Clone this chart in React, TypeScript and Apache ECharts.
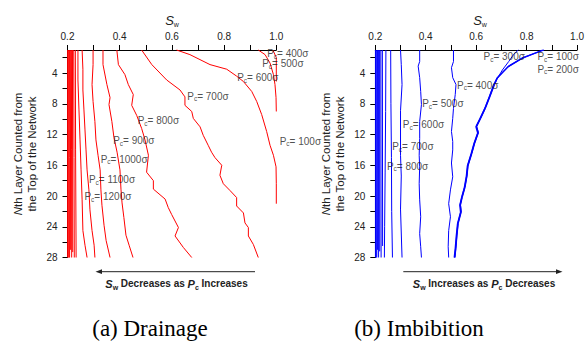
import React, { useEffect, useRef } from "react";
import * as echarts from "echarts";

const SANS = "'Liberation Sans', Arial, Helvetica, sans-serif";
const SERIF = "'Liberation Serif', 'Times New Roman', serif";

// ---- axis ticks / labels ----
const xTickValues = [0.2, 0.3, 0.4, 0.5, 0.6, 0.7, 0.8, 0.9, 1.0];
const xLabelValues = [0.2, 0.4, 0.6, 0.8, 1.0];
const yTickValues = [2, 4, 6, 8, 10, 12, 14, 16, 18, 20, 22, 24, 26, 28];
const yLabelValues = [4, 8, 12, 16, 20, 24, 28];

// ---- (a) Drainage: [Sw, layer] ----
const drainPc400 = [[0.987, 1], [1.0, 2], [1.0, 5.1]];
const drainPc500 = [[0.931, 1], [0.957, 1.6], [0.976, 2.7], [0.989, 4.2], [0.995, 5.5], [0.999, 7.2], [1.0, 9]];
const drainPc600 = [[0.618, 1], [0.669, 1.6], [0.746, 2.9], [0.81, 3.5], [0.848, 4.4], [0.874, 5.1], [0.906, 6.4], [0.925, 7.7], [0.944, 9.4], [0.963, 11.6], [0.976, 13.4], [0.989, 14.7], [0.999, 16.2], [1.0, 18.4], [1.0, 21]];
const drainPc700 = [[0.484, 1], [0.523, 2.9], [0.58, 4.9], [0.631, 6.2], [0.65, 7.1], [0.65, 8.2], [0.676, 9.0], [0.682, 9.9], [0.708, 11.0], [0.72, 12.1], [0.739, 13.4], [0.752, 14.3], [0.765, 15.0], [0.791, 16.0], [0.784, 17.3], [0.797, 18.4], [0.823, 19.3], [0.848, 20.2], [0.848, 21.3], [0.874, 22.2], [0.88, 23.5], [0.893, 24.1], [0.893, 25.2], [0.912, 26.3], [0.931, 28]];
const drainPc800 = [[0.389, 1], [0.395, 2.9], [0.42, 4.2], [0.433, 5.5], [0.452, 6.8], [0.446, 8.2], [0.465, 9.5], [0.484, 11.2], [0.497, 12.7], [0.51, 14.7], [0.503, 16.9], [0.529, 18.0], [0.529, 19.1], [0.574, 20.4], [0.586, 21.5], [0.599, 22.4], [0.625, 24.1], [0.612, 25.2], [0.644, 26.7], [0.676, 28]];
const drainPc900 = [[0.336, 1], [0.336, 2.9], [0.351, 5.5], [0.363, 7.2], [0.359, 8.1], [0.37, 10.3], [0.378, 12.4], [0.39, 14.3], [0.401, 16.6], [0.405, 19.2], [0.409, 20.9], [0.416, 22.8], [0.424, 25.1], [0.436, 26.4], [0.451, 28]];
const drainPc1000 = [[0.298, 1], [0.298, 2.9], [0.294, 5.5], [0.298, 7.7], [0.305, 10.3], [0.309, 12.7], [0.317, 14.7], [0.325, 16.6], [0.328, 19.2], [0.332, 21.2], [0.34, 23.8], [0.348, 25.8], [0.363, 28]];
const drainPc1100 = [[0.256, 1], [0.259, 3.5], [0.259, 6.2], [0.263, 8.8], [0.267, 11.4], [0.271, 14], [0.275, 16.6], [0.282, 19.2], [0.286, 21.8], [0.294, 24.5], [0.302, 26.4], [0.305, 28]];
const drainPc1200 = [[0.24, 1], [0.24, 4.9], [0.244, 8.8], [0.248, 12.7], [0.252, 16.6], [0.256, 20.5], [0.259, 24.5], [0.267, 26.4], [0.275, 28]];
const drainHigh1 = [[0.2005, 1], [0.2005, 28]];
const drainHigh2 = [[0.2025, 1], [0.2025, 28]];
const drainHigh3 = [[0.205, 1], [0.2055, 28]];
const drainHigh4 = [[0.208, 1], [0.2085, 15], [0.208, 28]];
const drainHigh5 = [[0.211, 1], [0.212, 27]];
const drainHigh6 = [[0.215, 1], [0.2155, 14], [0.216, 28]];
const drainHigh7 = [[0.219, 1], [0.22, 27.3]];
const drainHigh8 = [[0.224, 1], [0.225, 15], [0.226, 28]];
const drainHigh9 = [[0.23, 1], [0.231, 14], [0.233, 28]];

// ---- (b) Imbibition: [Sw, layer] ----
const imbPc100 = [[0.869, 1], [0.786, 2.0], [0.729, 3.1], [0.684, 4.6], [0.671, 5.5], [0.655, 6.9], [0.636, 8.5], [0.616, 9.9], [0.601, 10.9], [0.608, 11.7], [0.593, 13.1], [0.582, 14.4], [0.567, 16.0], [0.563, 17.3], [0.555, 18.8], [0.544, 20.1], [0.537, 21.1], [0.54, 22], [0.528, 23.5], [0.523, 25.1], [0.519, 26.7], [0.515, 28]];
const imbPc200 = [[0.864, 1], [0.781, 2.1], [0.726, 3.2], [0.682, 4.7], [0.669, 5.6], [0.653, 7.0], [0.634, 8.6], [0.614, 10.0], [0.599, 11.0], [0.606, 11.8], [0.591, 13.2], [0.58, 14.5], [0.565, 16.1], [0.561, 17.4], [0.553, 18.9], [0.542, 20.2], [0.535, 21.2], [0.538, 22.1], [0.526, 23.6], [0.521, 25.2], [0.517, 26.8], [0.513, 28]];
const imbPc300 = [[0.767, 1], [0.748, 1.6], [0.729, 2.5], [0.704, 3.6], [0.684, 4.7], [0.672, 5.6], [0.656, 7.0], [0.637, 8.6], [0.617, 10.0], [0.602, 11.0], [0.609, 11.8], [0.594, 13.2], [0.583, 14.5], [0.568, 16.1], [0.564, 17.4], [0.556, 18.9], [0.545, 20.2], [0.538, 21.2], [0.541, 22.1], [0.529, 23.6], [0.524, 25.2], [0.52, 26.8], [0.516, 28]];
const imbPc400 = [[0.51, 1], [0.51, 2.5], [0.502, 3.3], [0.507, 4.6], [0.52, 5.5], [0.517, 6.8], [0.51, 8.6], [0.507, 9.9], [0.502, 11.6], [0.507, 12.9], [0.507, 14], [0.502, 15.7], [0.507, 17.5], [0.498, 19.2], [0.491, 21], [0.498, 22.7], [0.491, 24.5], [0.489, 26.6], [0.491, 28]];
const imbPc500 = [[0.376, 1], [0.376, 2.5], [0.37, 3.1], [0.376, 4.6], [0.38, 6.4], [0.383, 8.1], [0.376, 10.3], [0.376, 12.5], [0.374, 14.7], [0.376, 16.2], [0.374, 18.4], [0.376, 20.5], [0.38, 22.7], [0.376, 24.9], [0.38, 26.6], [0.383, 28]];
const imbPc600 = [[0.3, 1], [0.303, 2.9], [0.306, 5.5], [0.3, 8.9], [0.3, 14.7], [0.303, 17.4], [0.3, 21.7], [0.306, 28]];
const imbPc700 = [[0.261, 1], [0.262, 8], [0.264, 15], [0.265, 22], [0.268, 28]];
const imbPc800 = [[0.242, 1], [0.241, 9], [0.239, 17], [0.237, 24], [0.236, 28]];
const imbHigh1 = [[0.2005, 1], [0.2005, 28]];
const imbHigh2 = [[0.203, 1], [0.203, 14], [0.2035, 28]];
const imbHigh3 = [[0.206, 1], [0.206, 28]];
const imbHigh4 = [[0.209, 1], [0.2095, 20], [0.209, 27]];
const imbHigh5 = [[0.213, 1], [0.213, 28]];
const imbHigh6 = [[0.217, 1], [0.2175, 27.2]];
const imbHigh7 = [[0.222, 1], [0.223, 28]];
const imbHigh8 = [[0.228, 1], [0.229, 26.5]];

// ---- curve annotations: [Sw, layer] of the label's left edge ----
const drainLabelTexts = ["400σ", "500σ", "600σ", "700σ", "800σ", "900σ", "1000σ", "1100σ", "1200σ", "100σ"];
const drainLabelAt = [[0.963, 1.46], [0.944, 2.76], [0.848, 4.6], [0.657, 7.0], [0.467, 10.2], [0.373, 12.8], [0.325, 15.2], [0.28, 17.9], [0.263, 20.1], [1.011, 12.9]];
const imbLabelTexts = ["300σ", "100σ", "200σ", "400σ", "500σ", "600σ", "700σ", "800σ"];
const imbLabelAt = [[0.627, 1.9], [0.841, 1.9], [0.841, 3.5], [0.522, 5.6], [0.384, 8.0], [0.307, 10.7], [0.265, 13.6], [0.244, 16.1]];

const RED = "#ff0000";
const BLUE = "#0000ff";
const INK = "#222";

function lineSeries(data: number[][], color: string, idx: number, width = 1) {
  return {
    type: "line",
    data,
    xAxisIndex: idx,
    yAxisIndex: idx,
    symbol: "none",
    showSymbol: false,
    clip: false,
    silent: true,
    lineStyle: { color, width },
    itemStyle: { color },
    z: 2,
  };
}

function labelSeries(texts: string[], at: number[][], idx: number) {
  return {
    type: "scatter",
    xAxisIndex: idx,
    yAxisIndex: idx,
    symbolSize: 1,
    clip: false,
    silent: true,
    itemStyle: { color: "rgba(0,0,0,0)" },
    z: 5,
    data: texts.map((t, i) => ({
      value: at[i],
      label: {
        show: true,
        position: "right",
        distance: 0,
        formatter: "{p|P}{c|c}{t|= " + t + "}",
        rich: {
          p: { fontSize: 10, fontFamily: SANS, color: INK, lineHeight: 12 },
          c: { fontSize: 6.5, fontFamily: SANS, color: INK, verticalAlign: "bottom", lineHeight: 12 },
          t: { fontSize: 10, fontFamily: SANS, color: INK, lineHeight: 12 },
        },
      },
    })),
  };
}

function xAxis(idx: number) {
  return {
    type: "value",
    gridIndex: idx,
    position: "top",
    min: 0.2,
    max: 1.0,
    interval: 0.1,
    axisLine: { show: true, onZero: false, lineStyle: { color: "#000", width: 1 } },
    axisTick: { show: true, length: 5, customValues: xTickValues, lineStyle: { color: "#000" } },
    axisLabel: {
      show: true,
      customValues: xLabelValues,
      margin: 9,
      fontSize: 10,
      fontFamily: SANS,
      color: INK,
      formatter: (v: number) => v.toFixed(1),
    },
    splitLine: { show: false },
  };
}

function yAxis(idx: number) {
  return {
    type: "value",
    gridIndex: idx,
    inverse: true,
    min: 1,
    max: 28,
    axisLine: { show: true, onZero: false, lineStyle: { color: "#000", width: 1 } },
    axisTick: { show: true, length: 5, customValues: yTickValues, lineStyle: { color: "#000" } },
    axisLabel: {
      show: true,
      customValues: yLabelValues,
      margin: 10,
      fontSize: 10,
      fontFamily: SANS,
      color: INK,
    },
    splitLine: { show: false },
  };
}

function yTitle(x: number) {
  return {
    type: "text",
    x,
    y: 154,
    rotation: Math.PI / 2,
    style: {
      text: "{n|N}{r|th Layer Counted from}\n{r|the Top of the Network}",
      align: "center",
      verticalAlign: "middle",
      fill: INK,
      fontSize: 11.5,
      fontFamily: SANS,
      lineHeight: 14,
      rich: {
        n: { fontSize: 11.5, fontFamily: SANS, fontStyle: "italic", fill: INK, lineHeight: 14 },
        r: { fontSize: 11.5, fontFamily: SANS, fill: INK, lineHeight: 14 },
      },
    },
  };
}

function swTitle(x: number) {
  return {
    type: "text",
    x,
    y: 20,
    style: {
      text: "{s|S}{w|w}",
      align: "center",
      verticalAlign: "middle",
      rich: {
        s: { fontSize: 13, fontFamily: SANS, fontStyle: "italic", fill: INK, lineHeight: 16 },
        w: { fontSize: 7, fontFamily: SANS, fill: INK, verticalAlign: "bottom", lineHeight: 16 },
      },
    },
  };
}

function arrowText(x: number, mid: string, tail: string) {
  return {
    type: "text",
    x,
    y: 283.5,
    style: {
      text: "{s|S}{sub|w}{b| " + mid + " }{s|P}{sub|c}{b| " + tail + "}",
      align: "center",
      verticalAlign: "middle",
      rich: {
        s: { fontSize: 11, fontFamily: SANS, fontStyle: "italic", fontWeight: "bold", fill: INK, lineHeight: 14 },
        sub: { fontSize: 7, fontFamily: SANS, fontWeight: "bold", fill: INK, verticalAlign: "bottom", lineHeight: 14 },
        b: { fontSize: 10, fontFamily: SANS, fontWeight: "bold", fill: INK, lineHeight: 14 },
      },
    },
  };
}

export default function App() {
  const ref = useRef<HTMLDivElement>(null);
  useEffect(() => {
    if (!ref.current) return;
    const chart = echarts.init(ref.current, undefined, { renderer: "svg" });
    const drainCurves = [drainPc400, drainPc500, drainPc600, drainPc700, drainPc800, drainPc900, drainPc1000, drainPc1100, drainPc1200, drainHigh1, drainHigh2, drainHigh3, drainHigh4, drainHigh5, drainHigh6, drainHigh7, drainHigh8, drainHigh9];
    const imbThin = [imbPc300, imbPc400, imbPc500, imbPc600, imbPc700, imbPc800, imbHigh1, imbHigh2, imbHigh3, imbHigh4, imbHigh5, imbHigh6, imbHigh7, imbHigh8];
    const series: any[] = [
      ...drainCurves.map((d) => lineSeries(d, RED, 0)),
      ...imbThin.map((d) => lineSeries(d, BLUE, 1)),
      lineSeries(imbPc100, BLUE, 1, 1.3),
      lineSeries(imbPc200, BLUE, 1, 1.3),
      labelSeries(drainLabelTexts, drainLabelAt, 0),
      labelSeries(imbLabelTexts, imbLabelAt, 1),
    ];
    chart.setOption({
      animation: false,
      backgroundColor: "#fff",
      grid: [
        { left: 67.5, top: 50, width: 208.8, height: 207.5 },
        { left: 375.3, top: 50, width: 208.8, height: 207.5 },
      ],
      xAxis: [xAxis(0), xAxis(1)],
      yAxis: [yAxis(0), yAxis(1)],
      series,
      graphic: [
        yTitle(25),
        yTitle(333),
        swTitle(172),
        swTitle(480),
        { type: "line", shape: { x1: 100, y1: 271.7, x2: 255, y2: 271.7 }, style: { stroke: INK, lineWidth: 1 } },
        { type: "polygon", shape: { points: [[95.5, 271.7], [102, 269.3], [102, 274.1]] }, style: { fill: INK } },
        { type: "line", shape: { x1: 403.3, y1: 271.7, x2: 558, y2: 271.7 }, style: { stroke: INK, lineWidth: 1 } },
        { type: "polygon", shape: { points: [[562.5, 271.7], [556, 269.3], [556, 274.1]] }, style: { fill: INK } },
        arrowText(176.5, "Decreases as", "Increases"),
        arrowText(484, "Increases as", "Decreases"),
        { type: "text", x: 150, y: 328, style: { text: "(a) Drainage", align: "center", verticalAlign: "middle", fill: "#000", fontSize: 23, fontFamily: SERIF } },
        { type: "text", x: 419, y: 328, style: { text: "(b) Imbibition", align: "center", verticalAlign: "middle", fill: "#000", fontSize: 23, fontFamily: SERIF } },
      ],
    });
    return () => chart.dispose();
  }, []);
  return <div ref={ref} style={{ position: "fixed", left: 0, top: 0, width: 587, height: 352 }} />;
}
